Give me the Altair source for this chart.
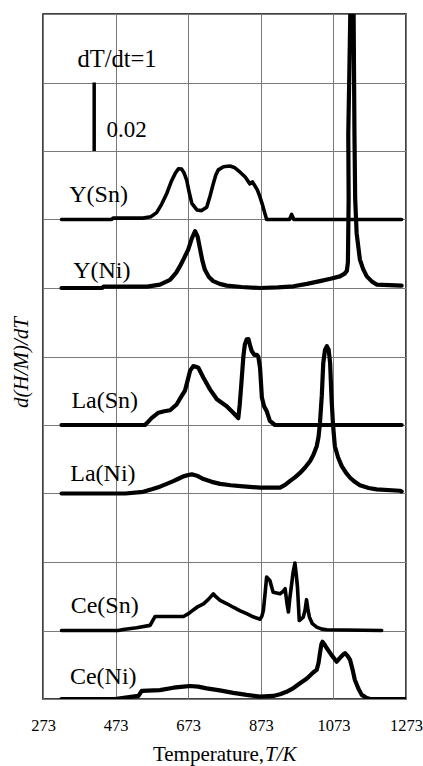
import altair as alt
import pandas as pd

# ---------------- data ----------------
series_names = ["Y(Sn)", "Y(Ni)", "La(Sn)", "La(Ni)", "Ce(Sn)", "Ce(Ni)"]
series_offsets = [0.14, 0.12, 0.08, 0.06, 0.02, 0.0]   # baseline of each trace
thin_series = ["Y(Sn)", "Ce(Sn)"]

YSn_T = [324, 462, 466, 548, 570, 586, 600, 614, 626, 637, 646, 655, 662, 669, 676, 683, 697, 710, 724, 733,
         742, 749, 756, 770, 788, 800, 816, 830, 843, 850, 857, 864, 871, 877, 882, 889, 952, 958, 964, 1261]
YSn_v = [0, 0, .0004, .0004, .0008, .002, .0045, .0076, .011, .0134, .0148, .0147, .0135, .0114, .0078, .0047,
         .0028, .0026, .0036, .0068, .0104, .013, .0145, .0154, .0156, .0152, .0138, .0124, .0104, .011,
         .0098, .0085, .0065, .0045, .0026, 0, 0, .0015, 0, 0]

YNi_T = [324, 436, 440, 560, 595, 623, 640, 650, 662, 673, 683, 692, 699, 706, 712, 719, 730, 742, 760, 779,
         820, 871, 920, 963, 1000, 1036, 1065, 1091, 1104, 1110, 1113, 1115, 1114, 1118, 1121, 1128, 1131, 1133,
         1137, 1146, 1155, 1165, 1178, 1192, 1261]
YNi_v = [0, 0, .0004, .0004, .001, .0024, .0045, .0063, .0088, .0112, .0145, .0166, .015, .0112, .008, .0053,
         .0032, .002, .0012, .0007, .0003, 0, .0002, .0005, .0012, .002, .0027, .0034, .0042, .005, .0075, .026,
         .045, .07, .09, .09, .045, .026, .016, .0083, .0055, .0034, .002, .001, .0007]

LaSn_T = [324, 554, 563, 572, 591, 607, 623, 641, 655, 664, 671, 678, 687, 694, 701, 715, 733, 752, 779, 795,
          811, 815, 820, 825, 829, 834, 839, 844, 848, 855, 862, 866, 871, 876, 882, 889, 898, 912, 1261]
LaSn_v = [0, 0, .001, .002, .0036, .004, .0043, .006, .0085, .01, .0128, .0158, .0172, .017, .0167, .0138,
          .0104, .0075, .0055, .0038, .002, .006, .0128, .02, .0235, .025, .0251, .023, .0216, .0205, .0205,
          .02, .0167, .008, .0055, .0041, .0012, 0, 0]

LaNi_T = [324, 500, 549, 575, 595, 614, 632, 646, 660, 673, 683, 697, 715, 738, 761, 790, 825, 871, 926, 940,
          953, 967, 981, 995, 1009, 1018, 1027, 1032, 1036, 1041, 1045, 1050, 1055, 1060, 1064, 1068, 1072, 1077,
          1086, 1096, 1108, 1119, 1132, 1146, 1170, 1192, 1256, 1261]
LaNi_v = [0, 0, .0005, .0013, .002, .0028, .0036, .0043, .005, .0054, .0056, .0052, .0042, .0034, .0028, .0024,
          .0021, .0017, .0017, .0025, .0036, .0047, .006, .0076, .0095, .0113, .0138, .0165, .0206, .0285, .038,
          .042, .043, .042, .038, .0275, .02, .0138, .0105, .008, .006, .0046, .0034, .0024, .0016, .0012, .0008,
          .0006]

CeSn_T = [324, 480, 494, 531, 568, 576, 582, 595, 660, 675, 687, 700, 715, 728, 742, 750, 761, 780, 797, 815,
          834, 852, 871, 876, 880, 885, 889, 898, 907, 926, 935, 940, 945, 949, 953, 958, 962, 967, 971, 974,
          979, 990, 995, 999, 1003, 1007, 1015, 1027, 1041, 1055, 1206]
CeSn_v = [0, 0, .0003, .0008, .0015, .003, .0041, .0041, .0041, .005, .006, .007, .0078, .009, .0107, .0098,
          .0088, .0078, .0068, .0058, .0049, .004, .0033, .0042, .0058, .011, .0156, .0146, .0112, .0107, .0115,
          .0122, .008, .0054, .0095, .0136, .017, .0197, .016, .0127, .0029, .0039, .006, .009, .006, .0039,
          .002, .001, .0004, .0002, 0]

CeNi_T = [324, 471, 500, 536, 545, 595, 632, 660, 678, 700, 724, 760, 797, 834, 871, 907, 926, 944, 963, 981,
          1000, 1018, 1027, 1032, 1036, 1040, 1043, 1048, 1055, 1068, 1082, 1093, 1100, 1105, 1112, 1119, 1126,
          1132, 1142, 1151, 1163, 1174, 1273]
CeNi_v = [0, 0, .0004, .0009, .0024, .0026, .0033, .0036, .0038, .0036, .0031, .0025, .0018, .0012, .0007,
          .0009, .0014, .0021, .0032, .0046, .006, .0078, .0085, .0105, .0134, .016, .0167, .016, .0148, .0128,
          .0109, .0122, .013, .0134, .0126, .0114, .0085, .0056, .003, .0012, .0004, 0, 0]

label_T = [426, 435, 443, 438, 443, 439]
label_y = [0.1451, 0.1228, 0.085, 0.0637, 0.0251, 0.0044]

x_ticks = [273, 473, 673, 873, 1073, 1273]
y_grid = [round(i * 0.02, 2) for i in range(11)]

rate_text = ["dT/dt=1"]
rate_T = [477]
rate_y = [0.1846]
bar_T = [414]
bar_y1 = [0.16]
bar_y2 = [0.18]
bar_text = ["0.02"]
bar_text_T = [448]
bar_text_y = [0.1641]

# ---------------- build table ----------------
all_T = [YSn_T, YNi_T, LaSn_T, LaNi_T, CeSn_T, CeNi_T]
all_v = [YSn_v, YNi_v, LaSn_v, LaNi_v, CeSn_v, CeNi_v]
frames = []
for name, off, Ts, vs in zip(series_names, series_offsets, all_T, all_v):
    frames.append(pd.DataFrame({"series": name, "T": Ts, "y": [v + off for v in vs],
                                "idx": list(range(len(Ts)))}))
curves = pd.DataFrame(pd.concat(frames, ignore_index=True))

FONT = "Liberation Serif"
xscale = alt.Scale(domain=[273, 1273], nice=False, zero=False)
yscale = alt.Scale(domain=[0, 0.2], nice=False, zero=False)
xaxis = alt.Axis(values=x_ticks, format="d", grid=True, gridColor="#7a7a7a", gridWidth=1,
                 domain=False, ticks=False, tickSize=0, labelFont=FONT, labelFontSize=16.5,
                 labelColor="#000000", labelPadding=31, labelBaseline="alphabetic",
                 labelFlush=False, labelOverlap=False, title=None)
yaxis = alt.Axis(values=y_grid, grid=True, gridColor="#7a7a7a", gridWidth=1, labels=False,
                 ticks=False, tickSize=0, domain=False, title="d(H/M)/dT", titleFont=FONT,
                 titleFontSize=21, titleFontStyle="italic", titleFontWeight="normal",
                 titleColor="#000000", titleAngle=270, titleX=-16, titleY=348,
                 titleBaseline="alphabetic", titleAlign="center")

X = alt.X("T:Q", scale=xscale, axis=xaxis)
Y = alt.Y("y:Q", scale=yscale, axis=yaxis)

base = alt.Chart(curves).encode(x=X, y=Y, detail="series:N", order="idx:Q")
thin_test = alt.FieldOneOfPredicate(field="series", oneOf=thin_series)
lines_thick = base.transform_filter(~thin_test).mark_line(
    clip=True, color="#000000", strokeWidth=4.2, strokeJoin="round", strokeCap="round")
lines_thin = base.transform_filter(thin_test).mark_line(
    clip=True, color="#000000", strokeWidth=3.6, strokeJoin="round", strokeCap="round")

labels_df = pd.DataFrame({"label": series_names, "T": label_T, "y": label_y})
labels = alt.Chart(labels_df).mark_text(font=FONT, fontSize=24, align="center", baseline="alphabetic",
                                        color="#000000").encode(x=X, y=Y, text="label:N")

rate_df = pd.DataFrame({"label": rate_text, "T": rate_T, "y": rate_y})
rate = alt.Chart(rate_df).mark_text(font=FONT, fontSize=24.5, align="center", baseline="alphabetic",
                                    color="#000000").encode(x=X, y=Y, text="label:N")

bar_df = pd.DataFrame({"T": bar_T, "y": bar_y1, "y2": bar_y2})
bar = alt.Chart(bar_df).mark_rule(color="#000000", strokeWidth=3.5).encode(x=X, y=Y, y2="y2:Q")

bartxt_df = pd.DataFrame({"label": bar_text, "T": bar_text_T, "y": bar_text_y})
bartxt = alt.Chart(bartxt_df).mark_text(font=FONT, fontSize=23, align="left", baseline="alphabetic",
                                        color="#000000").encode(x=X, y=Y, text="label:N")

xt1 = alt.Chart(pd.DataFrame({"label": ["Temperature,"]})).mark_text(
    font=FONT, fontSize=21, align="right", baseline="alphabetic", color="#000000").encode(
    x=alt.value(221), y=alt.value(747), text="label:N")
xt2 = alt.Chart(pd.DataFrame({"label": ["T/K"]})).mark_text(
    font=FONT, fontSize=21, fontStyle="italic", align="left", baseline="alphabetic", color="#000000").encode(
    x=alt.value(222), y=alt.value(747), text="label:N")

chart = alt.layer(lines_thick, lines_thin, labels, rate, bar, bartxt, xt1, xt2).properties(
    width=363, height=685,
    autosize=alt.AutoSizeParams(type="none"),
    padding={"left": 43, "top": 14, "right": 17, "bottom": 67},
    background="white",
).configure_view(stroke="#000000", strokeWidth=1.5, fill="white")

chart.save("out.html", embed_options={"renderer": "svg", "actions": False})
